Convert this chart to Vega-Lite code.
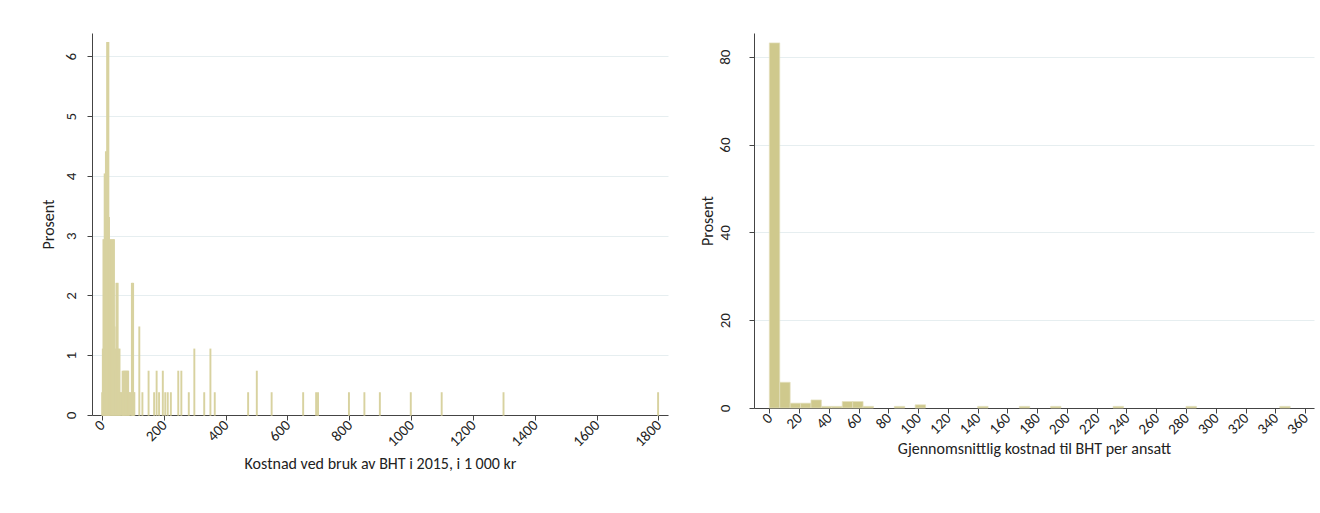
{
  "$schema": "https://vega.github.io/schema/vega-lite/v6.json",
  "padding": {"left": 40, "top": 33, "right": 4, "bottom": 5},
  "background": "white",
  "spacing": 30,
  "config": {
    "view": {"stroke": null},
    "font": "Carlito, Lato, sans-serif",
    "axis": {
      "labelFont": "Carlito, Lato, sans-serif",
      "titleFont": "Carlito, Lato, sans-serif",
      "labelFontSize": 15,
      "titleFontSize": 16,
      "titleFontWeight": "normal",
      "labelColor": "#222",
      "titleColor": "#222",
      "domainColor": "#444",
      "tickColor": "#444",
      "tickSize": 5,
      "gridColor": "#e6eef0",
      "gridWidth": 1
    }
  },
  "datasets": {
    "left": [
      {"start": 0, "end": 2, "pct": 0.37},
      {"start": 2, "end": 4, "pct": 1.10},
      {"start": 4, "end": 6, "pct": 2.93},
      {"start": 6, "end": 8, "pct": 1.83},
      {"start": 8, "end": 10, "pct": 4.03},
      {"start": 10, "end": 12, "pct": 2.56},
      {"start": 12, "end": 14, "pct": 4.40},
      {"start": 14, "end": 16, "pct": 3.30},
      {"start": 16, "end": 18, "pct": 6.23},
      {"start": 18, "end": 20, "pct": 4.40},
      {"start": 20, "end": 22, "pct": 6.23},
      {"start": 22, "end": 24, "pct": 3.30},
      {"start": 24, "end": 26, "pct": 2.20},
      {"start": 26, "end": 28, "pct": 2.93},
      {"start": 28, "end": 30, "pct": 1.83},
      {"start": 30, "end": 32, "pct": 2.93},
      {"start": 32, "end": 34, "pct": 2.20},
      {"start": 34, "end": 36, "pct": 2.93},
      {"start": 36, "end": 38, "pct": 1.83},
      {"start": 38, "end": 40, "pct": 2.93},
      {"start": 40, "end": 42, "pct": 1.47},
      {"start": 42, "end": 44, "pct": 1.10},
      {"start": 44, "end": 46, "pct": 0.73},
      {"start": 46, "end": 48, "pct": 2.20},
      {"start": 48, "end": 50, "pct": 1.47},
      {"start": 50, "end": 52, "pct": 2.20},
      {"start": 52, "end": 54, "pct": 1.10},
      {"start": 54, "end": 56, "pct": 0.73},
      {"start": 56, "end": 58, "pct": 1.10},
      {"start": 58, "end": 60, "pct": 0.37},
      {"start": 60, "end": 62, "pct": 0.37},
      {"start": 64, "end": 66, "pct": 0.37},
      {"start": 66, "end": 68, "pct": 0.73},
      {"start": 68, "end": 70, "pct": 0.37},
      {"start": 70, "end": 72, "pct": 0.73},
      {"start": 72, "end": 74, "pct": 0.73},
      {"start": 74, "end": 76, "pct": 0.37},
      {"start": 76, "end": 78, "pct": 0.73},
      {"start": 78, "end": 80, "pct": 0.73},
      {"start": 80, "end": 82, "pct": 0.37},
      {"start": 82, "end": 84, "pct": 0.73},
      {"start": 84, "end": 86, "pct": 0.73},
      {"start": 86, "end": 88, "pct": 0.37},
      {"start": 88, "end": 90, "pct": 0.37},
      {"start": 92, "end": 94, "pct": 0.37},
      {"start": 96, "end": 98, "pct": 2.20},
      {"start": 98, "end": 100, "pct": 1.47},
      {"start": 100, "end": 102, "pct": 2.20},
      {"start": 102, "end": 104, "pct": 0.37},
      {"start": 104, "end": 106, "pct": 0.37},
      {"start": 120, "end": 122, "pct": 1.47},
      {"start": 130, "end": 132, "pct": 0.37},
      {"start": 150, "end": 152, "pct": 0.73},
      {"start": 168, "end": 170, "pct": 0.37},
      {"start": 176, "end": 178, "pct": 0.73},
      {"start": 184, "end": 186, "pct": 0.37},
      {"start": 196, "end": 198, "pct": 0.73},
      {"start": 204, "end": 206, "pct": 0.37},
      {"start": 212, "end": 214, "pct": 0.37},
      {"start": 222, "end": 224, "pct": 0.37},
      {"start": 246, "end": 248, "pct": 0.73},
      {"start": 256, "end": 258, "pct": 0.73},
      {"start": 280, "end": 282, "pct": 0.37},
      {"start": 298, "end": 300, "pct": 1.10},
      {"start": 330, "end": 332, "pct": 0.37},
      {"start": 350, "end": 352, "pct": 1.10},
      {"start": 364, "end": 366, "pct": 0.37},
      {"start": 472, "end": 474, "pct": 0.37},
      {"start": 500, "end": 502, "pct": 0.73},
      {"start": 548, "end": 550, "pct": 0.37},
      {"start": 650, "end": 652, "pct": 0.37},
      {"start": 692, "end": 694, "pct": 0.37},
      {"start": 698, "end": 700, "pct": 0.37},
      {"start": 798, "end": 800, "pct": 0.37},
      {"start": 848, "end": 850, "pct": 0.37},
      {"start": 898, "end": 900, "pct": 0.37},
      {"start": 998, "end": 1000, "pct": 0.37},
      {"start": 1098, "end": 1100, "pct": 0.37},
      {"start": 1298, "end": 1300, "pct": 0.37},
      {"start": 1798, "end": 1800, "pct": 0.37}
    ],
    "right": [
      {"start": 0, "end": 7, "pct": 83.15},
      {"start": 7, "end": 14, "pct": 5.86},
      {"start": 14, "end": 21, "pct": 1.10},
      {"start": 21, "end": 28, "pct": 1.10},
      {"start": 28, "end": 35, "pct": 1.83},
      {"start": 35, "end": 42, "pct": 0.37},
      {"start": 42, "end": 49, "pct": 0.37},
      {"start": 49, "end": 56, "pct": 1.47},
      {"start": 56, "end": 63, "pct": 1.47},
      {"start": 63, "end": 70, "pct": 0.37},
      {"start": 84, "end": 91, "pct": 0.37},
      {"start": 98, "end": 105, "pct": 0.73},
      {"start": 140, "end": 147, "pct": 0.37},
      {"start": 168, "end": 175, "pct": 0.37},
      {"start": 189, "end": 196, "pct": 0.37},
      {"start": 231, "end": 238, "pct": 0.37},
      {"start": 280, "end": 287, "pct": 0.37},
      {"start": 343, "end": 350, "pct": 0.37}
    ]
  },
  "hconcat": [
    {
      "width": 576,
      "height": 382,
      "data": {"name": "left"},
      "mark": {"type": "bar", "color": "#d6d09a", "stroke": "#d8d2a0", "strokeWidth": 1.3},
      "encoding": {
        "x": {
          "field": "start", "type": "quantitative",
          "scale": {"domain": [-32, 1831], "nice": false, "zero": false},
          "axis": {
            "title": "Kostnad ved bruk av BHT i 2015, i 1 000 kr",
            "values": [0, 200, 400, 600, 800, 1000, 1200, 1400, 1600, 1800],
            "format": "d",
            "grid": false, "labelAngle": -45, "labelAlign": "right", "labelBaseline": "middle",
            "labelPadding": 2, "titlePadding": 6
          }
        },
        "x2": {"field": "end"},
        "y": {
          "field": "pct", "type": "quantitative",
          "scale": {"domain": [0, 6.39], "nice": false},
          "axis": {
            "title": "Prosent", "values": [0, 1, 2, 3, 4, 5, 6], "grid": true,
            "labelAngle": -90, "labelAlign": "center", "labelBaseline": "bottom",
            "labelPadding": 9, "titlePadding": 7
          }
        },
        "y2": {"datum": 0}
      }
    },
    {
      "width": 560,
      "height": 375,
      "data": {"name": "right"},
      "mark": {"type": "bar", "color": "#cfc98d", "stroke": "#e4e0bd", "strokeWidth": 0.7},
      "encoding": {
        "x": {
          "field": "start", "type": "quantitative",
          "scale": {"domain": [-10.3, 366], "nice": false, "zero": false},
          "axis": {
            "title": "Gjennomsnittlig kostnad til BHT per ansatt",
            "values": [0, 20, 40, 60, 80, 100, 120, 140, 160, 180, 200, 220, 240, 260, 280, 300, 320, 340, 360],
            "format": "d",
            "grid": false, "labelAngle": -45, "labelAlign": "right", "labelBaseline": "middle",
            "labelPadding": 2, "titlePadding": 4
          }
        },
        "x2": {"field": "end"},
        "y": {
          "field": "pct", "type": "quantitative",
          "scale": {"domain": [0, 85.4], "nice": false},
          "axis": {
            "title": "Prosent", "values": [0, 20, 40, 60, 80], "grid": true,
            "labelAngle": -90, "labelAlign": "center", "labelBaseline": "bottom",
            "labelPadding": 17, "titlePadding": 2
          }
        },
        "y2": {"datum": 0}
      }
    }
  ]
}
